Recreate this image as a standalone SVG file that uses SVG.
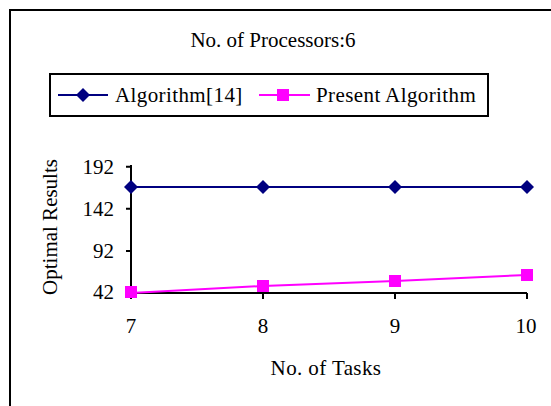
<svg xmlns="http://www.w3.org/2000/svg" width="551" height="406" viewBox="0 0 551 406">
<style>
text{font-family:"Liberation Serif","Times New Roman",serif;font-size:21px;fill:#000}
.sp{letter-spacing:0.4px}
.ax{stroke:#000;stroke-width:2;fill:none}
.blue{stroke:#000080;stroke-width:2;fill:none}
.pink{stroke:#FF00FF;stroke-width:2;fill:none}
</style>
<defs>
<path id="dia" d="M0,-7 L7,0 L0,7 L-7,0 Z" fill="#000080"/>
<rect id="sq" x="-6" y="-6" width="12" height="12" fill="#FF00FF"/>
</defs>
<rect x="0" y="0" width="551" height="406" fill="#fff"/>
<path d="M10,406 V10 H551" class="ax"/>
<g id="title"><text x="273" y="47" text-anchor="middle">No. of Processors:6</text></g>
<g id="legend">
<rect x="50" y="74" width="438" height="42" fill="#fff" stroke="#000" stroke-width="2"/>
<line x1="58" y1="95" x2="108" y2="95" class="blue"/>
<use href="#dia" x="83" y="95"/>
<text x="115" y="102" class="sp">Algorithm[14]</text>
<line x1="259" y1="95" x2="310" y2="95" class="pink"/>
<use href="#sq" x="283" y="95"/>
<text x="316" y="102" class="sp">Present Algorithm</text>
</g>
<g id="axes">
<path d="M131,165 V293 H527" class="ax"/>
<path d="M126,166.7 H131 M126,208.8 H131 M126,250.9 H131 M126,293 H131 M131,293 V299 M263,293 V299 M395,293 V299 M527,293 V299" class="ax"/>
<text x="114" y="174" text-anchor="end">192</text>
<text x="114" y="216" text-anchor="end">142</text>
<text x="114" y="258" text-anchor="end">92</text>
<text x="114" y="299" text-anchor="end">42</text>
<text x="131" y="333" text-anchor="middle">7</text>
<text x="263" y="333" text-anchor="middle">8</text>
<text x="395" y="333" text-anchor="middle">9</text>
<text x="526" y="333" text-anchor="middle">10</text>
<text x="326" y="375" text-anchor="middle" class="sp">No. of Tasks</text>
<text transform="translate(57,227) rotate(-90)" text-anchor="middle">Optimal Results</text>
</g>
<g id="connectors">
<polyline points="131,187 263,187 395,187 527,187" class="blue"/>
<polyline points="131,293 263,286 395,281 527,275" class="pink"/>
</g>
<g id="series1">
<use href="#dia" x="131" y="187"/><use href="#dia" x="263" y="187"/><use href="#dia" x="395" y="187"/><use href="#dia" x="527" y="187"/>
</g>
<g id="series2">
<use href="#sq" x="131" y="292"/><use href="#sq" x="263" y="286"/><use href="#sq" x="395" y="281"/><use href="#sq" x="527" y="275"/>
</g>
</svg>
